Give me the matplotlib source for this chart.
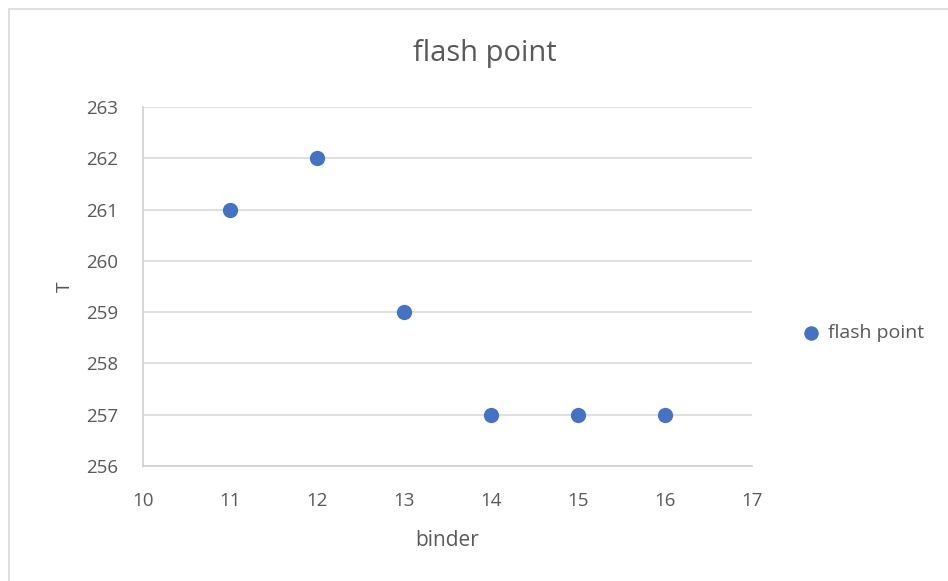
import matplotlib.pyplot as plt
from matplotlib.patches import Rectangle

binder = [11, 12, 13, 14, 15, 16]
flash_point = [261, 262, 259, 257, 257, 257]
x_ticks = [10, 11, 12, 13, 14, 15, 16, 17]
y_ticks = [256, 257, 258, 259, 260, 261, 262, 263]

plt.rcParams['font.family'] = ['Open Sans', 'DejaVu Sans']
text_color = '#595959'
grid_color = '#D9D9D9'
blue = '#4472C4'

fig = plt.figure(figsize=(9.48, 5.81), dpi=100)
fig.patch.set_facecolor('white')

# chart frame
fig.patches.append(Rectangle((9 / 948, -0.01), 1.0, 1 - 9 / 581 + 0.01,
                             transform=fig.transFigure, fill=False,
                             edgecolor='#D9D9D9', linewidth=1.2))

ax = fig.add_axes([143 / 948, 1 - 466 / 581, (752 - 143) / 948, (466 - 107) / 581])
ax.scatter(binder, flash_point, s=11 ** 2, color=blue, zorder=3,
           linewidths=0, label='flash point')

ax.set_xlim(10, 17)
ax.set_ylim(256, 263)
ax.set_xticks(x_ticks)
ax.set_yticks(y_ticks)
ax.grid(axis='y', color=grid_color, linewidth=1.2)
ax.set_axisbelow(True)
for side in ['top', 'right']:
    ax.spines[side].set_visible(False)
for side in ['left', 'bottom']:
    ax.spines[side].set_color('#D0D0D0')
    ax.spines[side].set_linewidth(1.2)
ax.tick_params(length=0, labelsize=13.5, labelcolor=text_color)
ax.tick_params(axis='x', pad=19)
ax.tick_params(axis='y', pad=18)

ax.set_xlabel('binder', fontsize=15, color=text_color, labelpad=14)
ax.set_ylabel('T', fontsize=14, color=text_color, labelpad=9)
fig.text(485 / 948, 1 - 53 / 581, 'flash point', fontsize=21, color=text_color,
         ha='center', va='center')

ax.legend(loc='center left', bbox_to_anchor=(1.053, 0.37), frameon=False,
          fontsize=14, labelcolor=text_color, handletextpad=-0.15,
          borderaxespad=0, markerscale=0.95)

fig.savefig('out.png', dpi=100)
